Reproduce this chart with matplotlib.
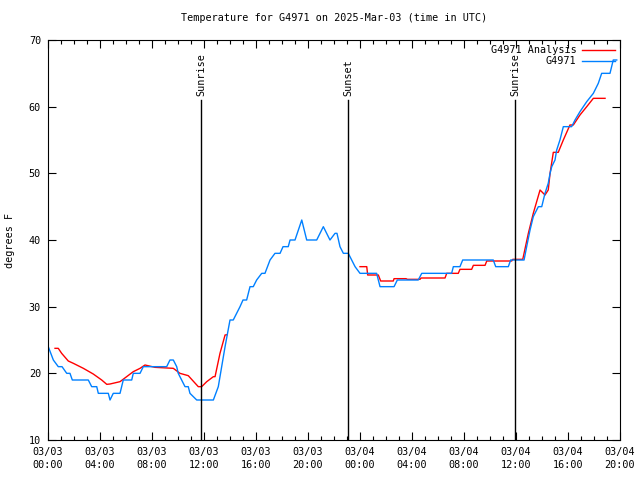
import numpy as np
import matplotlib
matplotlib.use('Agg')
import matplotlib.pyplot as plt
import matplotlib.dates as mdates

# hours after 2025-03-03 00:00 UTC, and temperature in F
obs_hours = [0.02, 0.41, 0.79, 1.08, 1.44, 1.69, 1.87, 3.10, 3.36, 3.75, 3.87, 4.64, 4.77, 5.02,
             5.54, 5.79, 6.44, 6.56, 7.08, 7.33, 9.13, 9.38, 9.64, 9.90, 10.02, 10.54, 10.79,
             10.92, 11.44, 12.72, 13.10, 13.62, 14.00, 14.25, 14.77, 15.00, 15.28, 15.54,
             15.79, 16.05, 16.44, 16.69, 17.08, 17.46, 17.85, 18.08, 18.48, 18.62, 19.00,
             19.52, 19.90, 20.67, 21.18, 21.69, 22.08, 22.23, 22.46, 22.72, 23.10, 23.62,
             24.00, 25.28, 25.54, 26.62, 26.87, 28.48, 28.75, 31.05, 31.18, 31.69, 31.90,
             34.25, 34.44, 35.41, 35.59, 36.62, 36.82, 37.08, 37.33, 37.72, 37.98, 38.23,
             38.48, 38.62, 38.75, 39.00, 39.13, 39.38, 39.64, 40.28, 40.54, 40.92, 41.44,
             41.95, 42.33, 42.59, 43.23, 43.48, 43.75]
obs_temps = [24, 22, 21, 21, 20, 20, 19, 19, 18, 18, 17, 17, 16, 17,
             17, 19, 19, 20, 20, 21, 21, 22, 22, 21, 20, 18, 18,
             17, 16, 16, 18, 24, 28, 28, 30, 31, 31, 33,
             33, 34, 35, 35, 37, 38, 38, 39, 39, 40, 40,
             43, 40, 40, 42, 40, 41, 41, 39, 38, 38, 36,
             35, 35, 33, 33, 34, 34, 35, 35, 36, 36, 37,
             37, 36, 36, 37, 37, 39, 41.5, 43.5, 45, 45, 47,
             48.5, 50, 51, 52, 53.5, 55, 57, 57, 58, 59.25, 60.75,
             62, 63.5, 65, 65, 67, 67]

# analysis has a gap during the afternoon (nan)
ana_hours = [0.54, 0.79, 1.05, 1.56, 1.95, 2.72, 3.48, 4.13, 4.52, 4.77, 5.54, 6.05, 6.56,
             7.08, 7.46, 8.23, 9.64, 10.15, 10.79, 11.56, 11.82, 12.21, 12.72, 12.85, 13.23,
             13.62, 13.79, 18.0,
             24.00, 24.52, 24.59, 25.41, 25.59, 26.56, 26.62, 27.54, 27.64, 28.62, 28.69,
             30.54, 30.67, 31.56, 31.69, 32.59, 32.72, 33.62, 33.75, 35.67, 35.75, 36.52,
             36.95, 37.33, 37.85, 38.23, 38.48, 38.62, 38.87, 39.25, 39.64, 40.15, 40.41,
             40.92, 41.44, 41.95, 42.85]
ana_temps = [23.75, 23.75, 23, 21.85, 21.5, 20.75, 19.9, 19, 18.35, 18.4, 18.75, 19.5, 20.25,
             20.75, 21.25, 20.9, 20.75, 20, 19.65, 18, 18, 18.75, 19.5, 19.5, 23,
             25.75, 25.8, np.nan,
             36, 36, 34.75, 34.75, 33.85, 33.85, 34.2, 34.2, 34.1, 34.1, 34.3,
             34.3, 35, 35, 35.6, 35.6, 36.2, 36.2, 36.85, 36.85, 37.1, 37.1,
             41, 44, 47.5, 46.75, 47.5, 50, 53.15, 53.15, 55, 57.25, 57.25,
             58.75, 60, 61.25, 61.25]

events = ['Sunrise', 'Sunset', 'Sunrise']
event_hours = [11.77, 23.08, 35.92]

base = np.datetime64('2025-03-03T00:00')


def to_time(hours):
    return base + (np.array(hours) * 3600).astype('timedelta64[s]')


plt.rcParams['font.family'] = 'DejaVu Sans Mono'
plt.rcParams['font.size'] = 7.3

fig = plt.figure(figsize=(6.4, 4.8), dpi=100)
ax = fig.add_axes([48 / 640, 40 / 480, 572 / 640, 400 / 480])

ax.plot(to_time(ana_hours), ana_temps, color='#ff0000', lw=1.0, label='G4971 Analysis')
ax.plot(to_time(obs_hours), obs_temps, color='#0080ff', lw=1.0, label='G4971')

for name, h in zip(events, event_hours):
    t = to_time([h])[0]
    ax.plot([t, t], [10, 61], color='black', lw=1.0)
    ax.text(t, 61.6, name, rotation=90, ha='center', va='bottom')

ax.set_ylim(10, 70)
ax.set_xlim(to_time([0])[0], to_time([44])[0])
ax.xaxis.set_major_locator(mdates.HourLocator(byhour=range(0, 24, 4)))
ax.xaxis.set_minor_locator(mdates.HourLocator())
ax.xaxis.set_major_formatter(mdates.DateFormatter('%m/%d\n%H:%M'))
ax.set_yticks(range(10, 71, 10))
ax.tick_params(which='both', direction='in', top=True, right=True, width=0.8)
ax.tick_params(which='major', length=6, pad=5)
ax.tick_params(which='minor', length=3)
for lbl in ax.get_xticklabels():
    lbl.set_linespacing(1.35)
for s in ax.spines.values():
    s.set_linewidth(0.8)

ax.set_ylabel('degrees F', fontsize=7.3, labelpad=10)
ax.set_title('Temperature for G4971 on 2025-Mar-03 (time in UTC)', fontsize=7.3, pad=14)

leg = ax.legend(loc='upper right', frameon=False, markerfirst=False, handlelength=3.2,
                borderaxespad=0.1, labelspacing=0.1, handletextpad=0.6, fontsize=7.3)
for t in leg.get_texts():
    t.set_ha('right')

fig.savefig('out.png', dpi=100)
